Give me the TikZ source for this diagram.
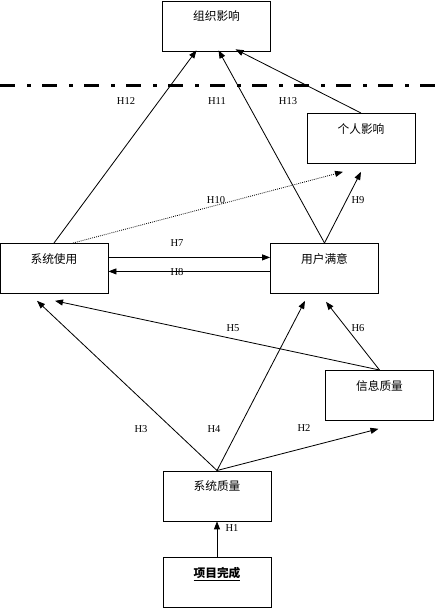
\documentclass[tikz,border=0pt]{standalone}
\usepackage{fontspec}
\setmainfont{Liberation Serif}
\newfontfamily\cjk{Noto Sans CJK SC}
\usetikzlibrary{arrows.meta,calc}

\begin{document}
\begin{tikzpicture}[x=0.03cm, y=-0.03cm,
    box/.style={draw, line width=0.7pt, anchor=north, inner sep=0pt,
      minimum width=3.24cm, text height=0.6cm, text depth=0.9cm,
      font=\cjk\fontsize{10}{12}\selectfont},
    hyp/.style={line width=0.7pt, -{Triangle[length=2.4mm,width=1.8mm]}},
    lbl/.style={font=\fontsize{9}{11}\selectfont, inner sep=1pt}]
  \useasboundingbox (0,0) rectangle (437,610);

  \node[box] (org) at (216.5,0.5) {组织影响};
  \node[box] (ind) at (361,113) {个人影响};
  \node[box] (use) at (54,243) {系统使用};
  \node[box] (sat) at (324.5,243) {用户满意};
  \node[box] (info) at (379.5,370) {信息质量};
  \node[box] (sysq) at (217,470.5) {系统质量};
  \node[box] (proj) at (217,557) {\underline{\bfseries 项目完成}};

  \coordinate (sepl) at (0,85.5);
  \coordinate (sepr) at (437,85.5);
  \draw[line width=0.1cm, dash pattern=on 0.45cm off 0.36cm on 0.12cm off 0.33cm]
    (sepl) -- (sepr);

  \draw[hyp] (use.north) -- ($(org.south)+(-20,-1)$);
  \draw[hyp] (sat.north) -- ($(org.south)+(2,-1)$);
  \draw[hyp] (ind.north) -- ($(org.south)+(19,-2)$);
  \draw[hyp, densely dotted] ($(use.north)+(19,0)$) -- ($(ind.south)+(-18,8)$);
  \draw[hyp] (sat.north) -- ($(ind.south)+(0,8)$);
  \draw[hyp] ($(use.east)+(0,-11)$) -- ($(sat.west)+(0,-11)$);
  \draw[hyp] ($(sat.west)+(0,3)$) -- ($(use.east)+(0,3)$);
  \draw[hyp] (info.north) -- ($(use.south)+(1,7)$);
  \draw[hyp] (info.north) -- ($(sat.south)+(1.5,8)$);
  \draw[hyp] (sysq.north) -- ($(use.south)+(-17,7)$);
  \draw[hyp] (sysq.north) -- ($(sat.south)+(-19.5,7)$);
  \draw[hyp] (sysq.north) -- ($(info.south)+(-1,8)$);
  \draw[hyp] (proj.north) -- (sysq.south);

  \node[lbl] (h12) at (126,101) {H12};
  \node[lbl] (h11) at (217,101) {H11};
  \node[lbl] (h13) at (288,101) {H13};
  \node[lbl] (h10) at (216,200) {H10};
  \node[lbl] (h9) at (358,200) {H9};
  \node[lbl] (h7) at (177,243) {H7};
  \node[lbl] (h8) at (177,272) {H8};
  \node[lbl] (h5) at (233,328) {H5};
  \node[lbl] (h6) at (358,328) {H6};
  \node[lbl] (h3) at (141,429) {H3};
  \node[lbl] (h4) at (214,429) {H4};
  \node[lbl] (h2) at (304,428) {H2};
  \node[lbl] (h1) at (232,528) {H1};
\end{tikzpicture}
\end{document}
